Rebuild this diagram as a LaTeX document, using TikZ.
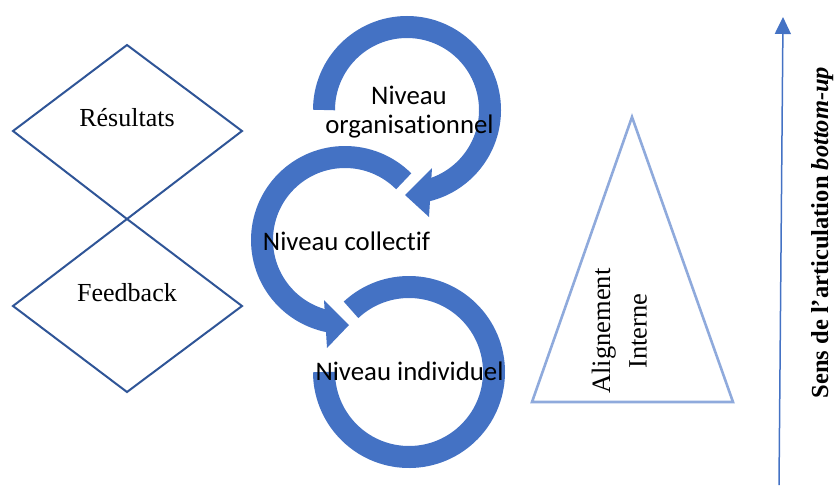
\documentclass[tikz,border=0pt]{standalone}
\usepackage{fontspec}
\setmainfont{Liberation Serif}
\newfontfamily\calib[Ligatures={NoCommon,NoDiscretionary,NoContextual}]{Carlito}
\usetikzlibrary{arrows.meta,calc}
\definecolor{arcblue}{HTML}{4472C4}
\definecolor{diamblue}{HTML}{2F5597}
\definecolor{triblue}{HTML}{8FAADC}
\begin{document}
\begin{tikzpicture}[x=1pt,y=1pt,
  diam/.style={draw=diamblue, line width=2pt, line join=miter},
  arcshaft/.style={draw=arcblue, line width=22pt},
  arrowtri/.style={fill=arcblue},
  serif/.style={font=\fontsize{26}{30}\selectfont, anchor=base, inner sep=0pt},
  rotserif/.style={font=\fontsize{26.5}{30}\selectfont, anchor=base, inner sep=0pt, rotate=90},
  sanstext/.style={font=\calib\fontsize{26.8}{29}\selectfont, anchor=base, inner sep=0pt}]
\useasboundingbox (0,0) rectangle (837,-485);

% diamonds
\coordinate (d1t) at (127,-45);
\coordinate (d1r) at (242,-131);
\coordinate (d1b) at (127,-219);
\coordinate (d1l) at (13,-131);
\coordinate (d2r) at (242,-306);
\coordinate (d2b) at (127,-392);
\coordinate (d2l) at (13,-306);
\draw[diam] (d1t) -- (d1r) -- (d1b) -- (d1l) -- cycle;
\draw[diam] (d1b) -- (d2r) -- (d2b) -- (d2l) -- cycle;
\node[serif] (res) at (127,-126.7) {Résultats};
\node[serif] (feed) at (127,-301.5) {Feedback};

% circular arrows
\coordinate (ctop) at (407,-110);
\coordinate (cmid) at (345,-240);
\coordinate (cbot) at (409,-372);
\draw[arcshaft] ($(ctop)+(180:83)$) arc[start angle=180, end angle=-76, radius=83];
\fill[arrowtri] (432,-168) -- (405,-195) -- (429,-217) -- cycle;
\draw[arcshaft] ($(cmid)+(45:83)$) arc[start angle=45, end angle=259, radius=83];
\fill[arrowtri] (324,-300) -- (349,-325) -- (327,-348) -- cycle;
\draw[arcshaft] ($(cbot)+(133:85)$) arc[start angle=133, end angle=-180, radius=85];

\node[sanstext] (orgA) at (409,-104) {Niveau};
\node[sanstext] (orgB) at (409.5,-133) {organisationnel};
\node[sanstext] (coll) at (346.5,-250) {Niveau collectif};
\node[sanstext] (indiv) at (409.5,-380.7) {Niveau individuel};

% triangle
\coordinate (tapex) at (632,-117);
\coordinate (tright) at (733,-402);
\coordinate (tleft) at (532,-402);
\draw[triblue, line width=2.6pt, line join=miter] (tapex) -- (tright) -- (tleft) -- cycle;
\node[rotserif] (alignA) at (610,-331) {Alignement};
\node[rotserif] (alignB) at (646.7,-331) {Interne};

% vertical arrow
\coordinate (abot) at (779,-485);
\coordinate (atop) at (783,-17);
\draw[arcblue, line width=1.5pt, -{Triangle[width=16pt,length=17pt]}] (abot) -- (atop);
\node[font=\fontsize{24.5}{29}\selectfont\bfseries, anchor=base, inner sep=0pt, rotate=90] (sens) at (828,-232.5) {Sens de l’articulation \textit{bottom-up}};
\end{tikzpicture}
\end{document}
